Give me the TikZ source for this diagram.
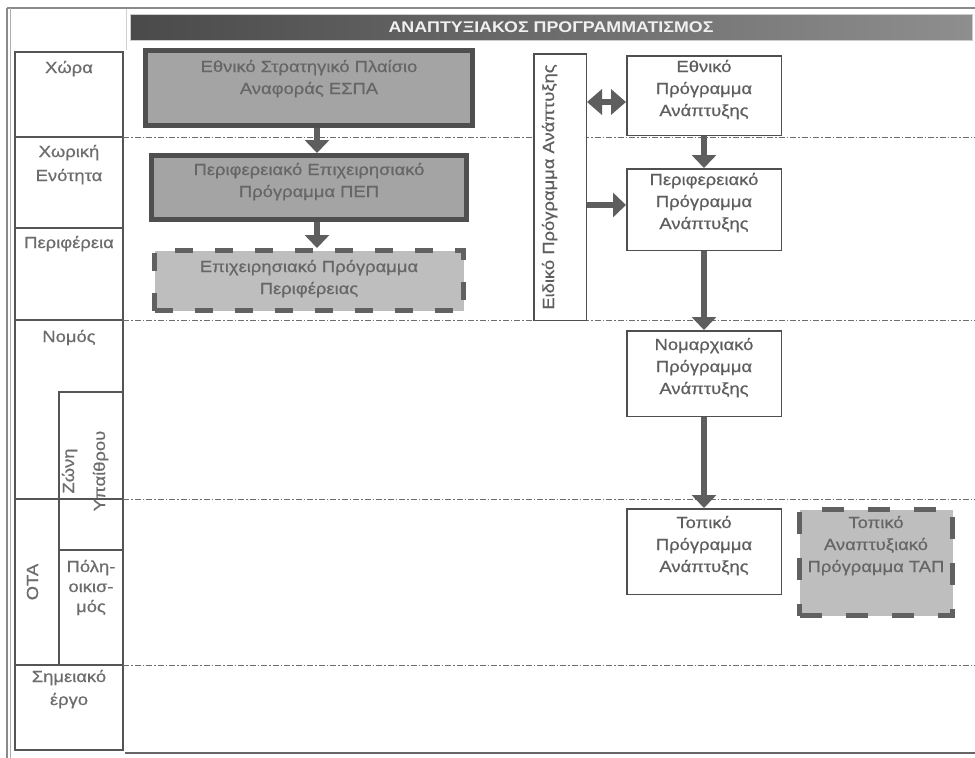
\documentclass[tikz,border=0pt]{standalone}
\usepackage{fontspec}
\setmainfont{Liberation Sans}[FakeStretch=1.15]
\newfontfamily\boxfnt{Liberation Sans}[FakeStretch=1.15, FakeBold=0.6]
\usetikzlibrary{arrows.meta,calc}
\definecolor{boxgray}{HTML}{A4A4A4}
\definecolor{bordgray}{HTML}{4F4F4F}
\definecolor{dashfill}{HTML}{BEBEBE}
\definecolor{arrowgray}{HTML}{5E5E5E}
\definecolor{txtdark}{HTML}{666666}
\definecolor{txtright}{HTML}{5E5E5E}
\definecolor{txtleft}{HTML}{6C6C6C}
\definecolor{cellline}{HTML}{555555}
\definecolor{sepline}{HTML}{6E6E6E}
\definecolor{framegray}{HTML}{8A8A8A}
\definecolor{hdrleft}{HTML}{4A4A4A}
\definecolor{hdrright}{HTML}{8E8E8E}
\newcommand\bxt[2]{\parbox[t]{#1}{\centering #2}}
\newcommand\bxfont{\boxfnt\fontsize{16}{22}\selectfont}
\begin{document}
\begin{tikzpicture}[x=1pt,y=-1pt,
  darkbox/.style={draw=bordgray, line width=5pt, fill=boxgray, text=txtdark, inner sep=0pt, font=\bxfont},
  dashbox/.style={draw=bordgray!90, line width=5pt, fill=dashfill, text=txtdark, inner sep=0pt, font=\bxfont},
  whitebox/.style={draw=bordgray, line width=1.5pt, fill=white, text=txtright, inner sep=0pt, font=\bxfont},
  cell/.style={draw=cellline, line width=2pt, inner sep=0pt, outer sep=0pt, text=txtleft, font=\bxfont},
  sepdash/.style={draw=sepline, line width=1pt, dash pattern=on 6pt off 2pt on 1.5pt off 2pt},
  bigarrow/.style={draw=arrowgray, line width=6pt, -{Triangle[width=24pt,length=13pt]}},
  dblarrow/.style={draw=arrowgray, line width=6pt, {Triangle[width=25pt,length=15pt]}-{Triangle[width=25pt,length=15pt]}},
  hdrbar/.style={left color=hdrleft, right color=hdrright, draw=white!80!black, line width=1pt, text=white!94!black, inner sep=0pt,
    font=\fontsize{15.5}{16}\selectfont\bfseries}
]
\useasboundingbox (0,0) rectangle (975,758);
\fill[white] (0,0) rectangle (975,758);

% frame
\draw[framegray, line width=1.2pt] (7,8) -- (975,8);
\draw[framegray, line width=1.2pt] (7,8) -- (7,758);
\draw[framegray!70, line width=1pt] (10,8) -- (10,758);
\draw[framegray!40, line width=1pt] (126,9) -- (126,50);
\draw[cellline!90, line width=2pt] (125,753) -- (975,753);

% header
\node[hdrbar, minimum width=842pt, minimum height=26pt] (hdr) at (551,27) {ΑΝΑΠΤΥΞΙΑΚΟΣ ΠΡΟΓΡΑΜΜΑΤΙΣΜΟΣ};

% left column cells
\node[cell, minimum width=108pt, text height=21pt, text depth=64pt] (chora) at (69,94.5) {\bxt{104pt}{Χώρα}};
\node[cell, minimum width=108pt, text height=20pt, text depth=71pt, font=\boxfnt\fontsize{16}{24}\selectfont] (chorikh) at (69,182.5) {\bxt{104pt}{Χωρική\\Ενότητα}};
\node[cell, minimum width=108pt, text height=20pt, text depth=72pt] (perif) at (69,274) {\bxt{106pt}{Περιφέρεια}};
\node[cell, minimum width=108pt, text height=22pt, text depth=157pt] (nomos) at (69,409.5) {\bxt{104pt}{Νομός}};
\node[cell, rotate=90, minimum width=166pt, text height=23pt, text depth=21pt] (ota) at (37,582) {\bxt{150pt}{ΟΤΑ}};
\node[cell, rotate=90, minimum width=158pt, text height=15pt, text depth=49pt, font=\boxfnt\fontsize{16}{31}\selectfont] (zoni) at (91,471) {\bxt{150pt}{Ζώνη\\Υπαίθρου}};
\node[cell, minimum width=64pt, text height=22pt, text depth=93pt, font=\boxfnt\fontsize{16}{20}\selectfont] (poli) at (91,607.5) {\bxt{62pt}{Πόλη-\\οικισ-\\μός}};
\node[cell, minimum width=108pt, text height=17pt, text depth=68pt, font=\boxfnt\fontsize{16}{23}\selectfont] (shmeio) at (69,707.5) {\bxt{104pt}{Σημειακό\\έργο}};

% separator lines
\coordinate (e1) at (975,137);
\coordinate (e2) at (975,320);
\coordinate (e3) at (975,499);
\coordinate (e4) at (975,665);
\draw[sepdash] (chora.south east) -- (e1);
\draw[sepdash] (perif.south east) -- (e2);
\draw[sepdash] (nomos.south east) -- (e3);
\draw[sepdash] (poli.south east) -- (e4);

% left boxes
\node[darkbox, minimum width=327pt, text height=21.5pt, text depth=53.5pt] (espa) at (309,88)
  {\bxt{320pt}{Εθνικό Στρατηγικό Πλαίσιο\\Αναφοράς ΕΣΠΑ}};
\node[darkbox, minimum width=315pt, text height=19.5pt, text depth=44.5pt] (pep) at (309,187.5)
  {\bxt{310pt}{Περιφερειακό Επιχειρησιακό\\Πρόγραμμα ΠΕΠ}};
\node[dashbox, dash pattern=on 18pt off 22pt, minimum width=309pt, text height=21.5pt, text depth=38.5pt] (epp) at (309,280.5)
  {\bxt{300pt}{Επιχειρησιακό Πρόγραμμα\\Περιφέρειας}};

% special programme
\node[whitebox, rotate=90, minimum width=266.5pt, text height=20.25pt, text depth=32.25pt] (eidiko) at (560,187)
  {\bxt{262pt}{Ειδικό Πρόγραμμα Ανάπτυξης}};

% right boxes
\node[whitebox, minimum width=154.5pt, text height=16.25pt, text depth=63.25pt] (ethn) at (704,95.5)
  {\bxt{150pt}{Εθνικό\\Πρόγραμμα\\Ανάπτυξης}};
\node[whitebox, minimum width=154.5pt, text height=16.25pt, text depth=65.25pt] (perprog) at (704,209.5)
  {\bxt{150pt}{Περιφερειακό\\Πρόγραμμα\\Ανάπτυξης}};
\node[whitebox, minimum width=154.5pt, text height=19.25pt, text depth=66.25pt] (nomar) at (704,373.5)
  {\bxt{150pt}{Νομαρχιακό\\Πρόγραμμα\\Ανάπτυξης}};
\node[whitebox, minimum width=154.5pt, text height=19.25pt, text depth=66.25pt] (topiko) at (704,551.5)
  {\bxt{150pt}{Τοπικό\\Πρόγραμμα\\Ανάπτυξης}};
\node[dashbox, dash pattern=on 22pt off 24pt, minimum width=153pt, text height=18.5pt, text depth=87.5pt] (tap) at (876,562.5)
  {\bxt{152pt}{Τοπικό\\Αναπτυξιακό\\Πρόγραμμα ΤΑΠ}};

% arrows
\draw[bigarrow] ([xshift=8pt]espa.south) -- ([xshift=8pt]pep.north);
\draw[bigarrow] ([xshift=8pt]pep.south) -- ([xshift=8pt]epp.north);
\draw[bigarrow] (ethn.south) -- (perprog.north);
\draw[bigarrow] (perprog.south) -- (nomar.north);
\draw[bigarrow] (nomar.south) -- (topiko.north);
\draw[dblarrow] ($(eidiko.south |- ethn.west)+(0,6.5)$) -- ($(ethn.west)+(0,6.5)$);
\draw[bigarrow] ($(eidiko.south |- perprog.west)+(0,-4.5)$) -- ($(perprog.west)+(0,-4.5)$);
\end{tikzpicture}
\end{document}
